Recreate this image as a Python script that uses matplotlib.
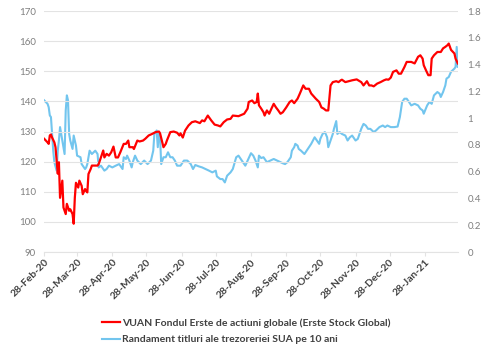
import numpy as np
import pandas as pd
import matplotlib
matplotlib.use('Agg')
import matplotlib.pyplot as plt
import matplotlib.dates as mdates

# zile de la 28-Feb-2020 si valori
start = pd.Timestamp('2020-02-28')

red_days = [0, 3, 4, 5, 6, 7, 9, 10, 12, 13, 14, 16, 17, 19, 20, 22, 23, 25, 26, 27,
            28, 30, 31, 33, 34, 36, 37, 38, 39, 41, 42, 45, 47, 48, 50, 52, 53, 55, 57, 59,
            61, 63, 65, 67, 70, 72, 74, 75, 78, 79, 82, 84, 87, 89, 92, 95, 98, 101, 102, 105,
            107, 108, 111, 114, 117, 119, 120, 122, 124, 127, 130, 133, 137, 139, 141, 144, 147, 150, 153, 155,
            158, 161, 164, 166, 171, 176, 179, 180, 183, 185, 187, 188, 189, 191, 193, 194, 196, 198, 200, 202,
            204, 206, 208, 210, 213, 216, 218, 220, 223, 225, 228, 230, 233, 235, 239, 242, 244, 246, 248, 250,
            252, 254, 257, 259, 261, 262, 265, 268, 271, 275, 279, 281, 284, 286, 288, 290, 293, 296, 299, 301,
            303, 305, 307, 310, 312, 314, 317, 319, 323, 326, 329, 331, 333, 334, 336, 338, 340, 341, 343, 346,
            349, 351, 353, 355, 356, 358, 361, 362, 364]
red_vals = [127.6, 126.4, 125.9, 128.7, 129.0, 128.0, 126.4, 124.8, 116.0, 119.8, 108.0, 113.7, 104.8, 102.6, 106.0, 103.7, 104.2, 102.6, 99.4, 108.0,
            113.0, 111.4, 113.7, 112.0, 109.2, 110.9, 110.3, 109.8, 115.9, 117.6, 118.7, 118.7, 118.7, 119.2, 121.4, 123.7, 121.4, 122.6, 122.0, 123.1,
            125.0, 121.4, 121.4, 123.1, 125.9, 125.9, 127.0, 124.8, 124.8, 124.2, 127.0, 126.7, 127.0, 127.6, 128.7, 129.2, 129.8, 130.0, 129.4, 124.8,
            125.9, 127.0, 129.8, 130.0, 129.6, 128.7, 129.4, 128.0, 130.3, 132.0, 133.1, 133.4, 132.8, 133.7, 133.4, 135.3, 133.7, 132.3, 132.0, 131.7,
            133.1, 134.0, 134.2, 135.3, 135.1, 135.9, 137.6, 139.8, 140.3, 139.4, 139.8, 142.6, 138.7, 137.6, 136.4, 135.3, 137.0, 135.9, 137.6, 139.2,
            138.0, 137.0, 135.9, 136.4, 138.0, 139.8, 140.3, 139.4, 140.9, 142.6, 145.3, 144.2, 144.2, 142.6, 140.9, 139.8, 138.0, 137.6, 137.0, 137.0,
            145.3, 146.4, 146.7, 146.4, 147.0, 147.2, 146.4, 146.7, 147.0, 147.3, 146.4, 145.3, 146.7, 145.3, 145.3, 145.0, 145.9, 146.4, 147.0, 147.3,
            147.2, 147.9, 149.8, 150.3, 149.2, 149.2, 151.4, 153.1, 153.1, 152.6, 154.8, 155.3, 154.2, 152.0, 150.3, 148.7, 148.7, 154.2, 155.3, 156.4,
            156.4, 157.6, 158.1, 158.7, 159.2, 157.1, 155.9, 154.2, 152.6]

blue_days = [0, 3, 4, 5, 6, 7, 8, 9, 11, 12, 13, 14, 15, 17, 18, 19, 20, 21, 22, 23,
             25, 26, 28, 29, 32, 33, 36, 37, 38, 40, 42, 45, 47, 48, 50, 53, 55, 57, 60, 63,
             66, 69, 70, 72, 73, 75, 77, 78, 80, 82, 85, 88, 91, 94, 96, 97, 99, 100, 101, 102,
             103, 105, 107, 109, 111, 113, 115, 117, 120, 123, 126, 129, 131, 133, 136, 139, 142, 145, 148, 151,
             152, 155, 157, 159, 161, 164, 166, 169, 171, 174, 177, 179, 182, 184, 186, 188, 189, 191, 193, 196,
             199, 202, 205, 208, 210, 212, 214, 216, 217, 218, 220, 221, 223, 224, 226, 229, 231, 233, 235, 238,
             240, 242, 243, 245, 247, 249, 250, 252, 254, 255, 257, 258, 260, 262, 265, 267, 269, 271, 274, 276,
             279, 281, 283, 285, 287, 290, 292, 295, 298, 300, 302, 305, 308, 311, 313, 315, 317, 319, 321, 323,
             326, 329, 331, 333, 334, 337, 339, 341, 343, 346, 348, 349, 351, 353, 354, 356, 358, 361, 362, 363, 364]
blue_vals = [1.133, 1.107, 1.082, 1.020, 1.008, 0.882, 0.757, 0.671, 0.608, 0.757, 0.833, 0.933, 0.882, 0.783, 0.732, 1.058, 1.170, 1.133, 0.882, 0.833,
             0.770, 0.870, 0.795, 0.720, 0.708, 0.657, 0.620, 0.632, 0.657, 0.757, 0.732, 0.757, 0.732, 0.632, 0.645, 0.608, 0.620, 0.645, 0.632, 0.645,
             0.657, 0.620, 0.708, 0.695, 0.720, 0.683, 0.632, 0.671, 0.720, 0.683, 0.657, 0.683, 0.657, 0.683, 0.757, 0.882, 0.908, 0.783, 0.896, 0.857,
             0.657, 0.708, 0.708, 0.745, 0.708, 0.708, 0.683, 0.645, 0.645, 0.683, 0.683, 0.657, 0.620, 0.650, 0.640, 0.632, 0.620, 0.608, 0.595, 0.608,
             0.565, 0.545, 0.545, 0.520, 0.570, 0.595, 0.620, 0.708, 0.720, 0.683, 0.645, 0.683, 0.738, 0.720, 0.683, 0.632, 0.720, 0.702, 0.708, 0.671,
             0.683, 0.695, 0.683, 0.671, 0.663, 0.657, 0.671, 0.695, 0.708, 0.757, 0.783, 0.808, 0.795, 0.770, 0.757, 0.732, 0.757, 0.783, 0.808, 0.857,
             0.833, 0.808, 0.845, 0.882, 0.896, 0.857, 0.783, 0.833, 0.882, 0.920, 0.978, 0.882, 0.896, 0.882, 0.870, 0.833, 0.857, 0.870, 0.833, 0.845,
             0.920, 0.957, 0.945, 0.920, 0.920, 0.896, 0.908, 0.933, 0.945, 0.933, 0.945, 0.933, 0.933, 0.937, 1.008, 1.121, 1.145, 1.145, 1.121, 1.095,
             1.107, 1.095, 1.070, 1.058, 1.033, 1.095, 1.121, 1.107, 1.170, 1.195, 1.182, 1.158, 1.195, 1.245, 1.295, 1.307, 1.346, 1.370, 1.383, 1.532, 1.383]

red_label = 'VUAN Fondul Erste de actiuni globale (Erste Stock Global)'
blue_label = 'Randament titluri ale trezoreriei SUA pe 10 ani'
tick_dates = ['2020-02-28', '2020-03-28', '2020-04-28', '2020-05-28', '2020-06-28', '2020-07-28',
              '2020-08-28', '2020-09-28', '2020-10-28', '2020-11-28', '2020-12-28', '2021-01-28']

plt.rcParams['font.family'] = ['Lato', 'DejaVu Sans']

red_x = start + pd.to_timedelta(red_days, unit='D')
blue_x = start + pd.to_timedelta(blue_days, unit='D')

fig = plt.figure(figsize=(4.85, 3.55), dpi=100)
ax = fig.add_axes([0.091, 0.290, 0.853, 0.679])
ax2 = ax.twinx()

ax.plot(red_x, red_vals, color='#ff0000', lw=1.6, zorder=3)
ax2.plot(blue_x, blue_vals, color='#72c5ee', lw=1.5, zorder=2)
ax.set_zorder(ax2.get_zorder() + 1)
ax.patch.set_visible(False)

ax.set_ylim(90, 170)
ax.set_yticks(np.arange(90, 171, 10))
ax2.set_ylim(0, 1.8)
ax2.set_yticks(np.arange(0, 1.81, 0.2))
ax2.set_yticklabels(['0', '0.2', '0.4', '0.6', '0.8', '1', '1.2', '1.4', '1.6', '1.8'])

ax.set_xlim(start, start + pd.Timedelta(days=364))
ax.set_xticks(pd.to_datetime(tick_dates))
ax.xaxis.set_major_formatter(mdates.DateFormatter('%d-%b-%y'))

ax.grid(axis='y', color='#e3e3e3', lw=0.8)
ax.set_axisbelow(True)
for a in (ax, ax2):
    for s in ['top', 'left', 'right']:
        a.spines[s].set_visible(False)
    a.spines['bottom'].set_color('#e3e3e3')
ax2.spines['bottom'].set_visible(False)

ax.tick_params(axis='y', length=0, labelsize=7, labelcolor='#7f7f7f', pad=6)
ax2.tick_params(axis='y', length=0, labelsize=7, labelcolor='#7f7f7f', pad=7)
ax.tick_params(axis='x', length=3, color='#e3e3e3', labelsize=7.5, labelcolor='#404040', pad=1)
for lbl in ax.get_xticklabels():
    lbl.set_rotation(45)
    lbl.set_ha('right')
    lbl.set_rotation_mode('anchor')
    lbl.set_fontweight('bold')

h1, = ax.plot([], [], color='#ff0000', lw=1.6)
h2, = ax.plot([], [], color='#72c5ee', lw=1.5)
fig.legend([h1, h2], [red_label, blue_label], loc='upper left',
           bbox_to_anchor=(0.19, 0.13), frameon=False,
           labelcolor='#404040', handlelength=1.8, handletextpad=0.2,
           labelspacing=0.7, prop={'weight': 'bold', 'size': 7.5})

fig.savefig('out.png', dpi=100)
